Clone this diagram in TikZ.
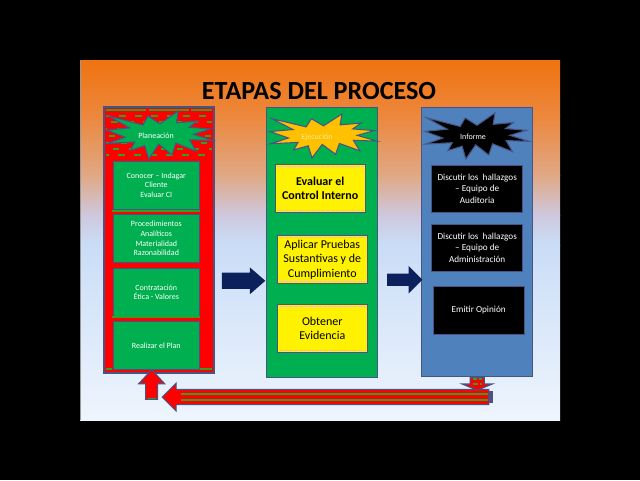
\documentclass[tikz,border=0pt]{standalone}
\usepackage{fontspec}
\setmainfont{Carlito}
\usetikzlibrary{positioning,shapes.arrows}

\definecolor{slideorange}{RGB}{240,115,15}
\definecolor{slidetan}{RGB}{236,135,60}
\definecolor{slidepeach}{RGB}{224,168,132}
\definecolor{slidelilac}{RGB}{206,200,222}
\definecolor{slideblue}{RGB}{202,221,247}
\definecolor{slidewhite}{RGB}{238,245,253}
\definecolor{planred}{RGB}{255,0,0}
\definecolor{execgreen}{RGB}{0,176,80}
\definecolor{infoblue}{RGB}{79,129,189}
\definecolor{starorange}{RGB}{255,192,0}
\definecolor{edgeblue}{RGB}{72,84,132}
\definecolor{navy}{RGB}{12,32,92}
\definecolor{patgreen}{RGB}{50,160,40}
\definecolor{pinkline}{RGB}{248,178,212}
\definecolor{paleyellow}{RGB}{252,232,150}

\newcommand{\burstpath}{(108,58) -- (83.52,22.95) -- (73.12,63.2) -- (3.7,22.95) -- (46.27,76.17) -- (0,86.15) -- (37.22,117.75) -- (1.35,145.87) -- (56.67,139.37) -- (47.62,176.17) -- (77.15,156.27) -- (84.85,216) -- (105.32,149.35) -- (132.47,197.37) -- (140.2,144.57) -- (181.45,180.95) -- (168.37,129.42) -- (216,132.9) -- (176.07,104.75) -- (210.97,81.37) -- (167.02,73.15) -- (183.8,44.57) -- (141.55,53.25) -- (145.22,0) -- cycle}

\tikzset{
  colbox/.style={draw=edgeblue, line width=1pt, inner sep=0pt},
  planbox/.style={draw=edgeblue, fill=execgreen, line width=0.6pt, minimum width=64.5pt, minimum height=36pt,
    inner sep=1pt, align=center, text=white, font=\fontsize{6}{7.3}\selectfont},
  execbox/.style={draw=edgeblue, fill=yellow, line width=0.6pt, minimum width=67.5pt, minimum height=36pt,
    inner sep=1pt, align=center, text=black, font=\fontsize{9}{10.8}\selectfont},
  infobox/.style={draw=edgeblue, fill=black, line width=0.6pt, minimum width=68.25pt, minimum height=35.8pt,
    inner sep=1pt, align=center, text=white, font=\fontsize{6.9}{8.6}\selectfont},
  burst/.style={draw=edgeblue, line width=0.8pt, line join=miter},
  startext/.style={inner sep=0pt, font=\fontsize{6}{7}\selectfont},
  patdash/.style={patgreen, line width=1.1pt, dash pattern=on 5pt off 7pt},
  pinkdash/.style={pinkline, line width=1pt, dash pattern=on 3pt off 0.7pt},
  blockarrow/.style={single arrow, inner xsep=0pt, outer sep=0pt},
  redarrow/.style={blockarrow, fill=planred, draw=edgeblue, line width=0.8pt}
}

\begin{document}
\begin{tikzpicture}[x=0.75pt,y=-0.75pt]
  % slide and background
  \fill[black] (0,0) rectangle (640,480);
  \useasboundingbox (0,0) rectangle (640,480);
  \shade[top color=slideorange, bottom color=slidetan] (80,60) rectangle (560,115);
  \shade[top color=slidetan, bottom color=slidepeach] (80,115) rectangle (560,175);
  \shade[top color=slidepeach, bottom color=slidelilac] (80,175) rectangle (560,215);
  \shade[top color=slidelilac, bottom color=slideblue] (80,215) rectangle (560,245);
  \shade[top color=slideblue, bottom color=slidewhite] (80,245) rectangle (560,420);
  \draw[gray!80, line width=0.6pt] (80.3,60) -- (80.3,420);

  \node[font=\bfseries\fontsize{19.6}{22}\selectfont] (title) at (319,91) {ETAPAS DEL PROCESO};

  % columns
  \node[colbox, fill=planred, minimum width=82.5pt, minimum height=199.5pt] (plan) at (159,240) {};
  \node[colbox, fill=execgreen, minimum width=83pt, minimum height=202.5pt] (exec) at (322,242.3) {};
  \node[colbox, fill=infoblue, minimum width=83.25pt, minimum height=202pt] (info) at (477.2,242) {};

  % pattern of the planning column
  \draw[patgreen, line width=1.3pt, dash pattern=on 30pt off 2pt] (106,110) -- (212,110);
  \draw[patdash, dash phase=2pt] (106,116) -- (212,116);
  \draw[patdash, dash phase=8pt] (106,122) -- (212,122);
  \draw[patdash, dash phase=4pt] (106,129) -- (212,129);
  \draw[patdash, dash phase=10pt] (106,136) -- (212,136);
  \draw[patdash, dash phase=1pt] (106,143) -- (212,143);
  \draw[patdash, dash phase=7pt] (106,149) -- (212,149);
  \draw[patdash, dash phase=3pt] (106,155) -- (212,155);

  % stars
  \begin{scope}[shift={(107,111)}, xscale=106/216, yscale=48/216]
    \draw[burst, fill=execgreen] \burstpath;
  \end{scope}
  \begin{scope}[shift={(270,114)}, xscale=107/216, yscale=44/216]
    \draw[burst, fill=starorange] \burstpath;
  \end{scope}
  \begin{scope}[shift={(425,113)}, xscale=104/216, yscale=46/216]
    \draw[burst, fill=black] \burstpath;
  \end{scope}
  \node[startext, text=white] (plantag) at (156,136) {Planeación};
  \node[startext, text=paleyellow] (exectag) at (317,137) {Ejecución};
  \node[startext, text=white] (infotag) at (473,137) {Informe};

  % planning steps
  \node[planbox] (pl1) at (156.3,185) {Conocer – Indagar\\Cliente\\Evaluar CI};
  \node[planbox, below=3.6pt of pl1] (pl2) {Procedimientos\\Analíticos\\Materialidad\\Razonabilidad};
  \node[planbox, below=3.6pt of pl2] (pl3) {Contratación\\Ética - Valores};
  \node[planbox, below=3.6pt of pl3] (pl4) {Realizar el Plan};
  \draw[patgreen, line width=1.4pt] (112,211.4) -- (200,211.4);
  \draw[patgreen, line width=1.4pt] (112,317) -- (200,317);
  \draw[patgreen, line width=1.4pt] (106,369) -- (112,369);
  \draw[patgreen, line width=1.4pt] (200,369) -- (211.5,369);

  % execution steps
  \node[execbox, font=\bfseries\fontsize{9}{11.2}\selectfont] (ex1) at (320.2,188.3) {Evaluar el\\Control Interno};
  \node[execbox] (ex2) at (322.3,259.7) {Aplicar Pruebas\\Sustantivas y de\\Cumplimiento};
  \node[execbox] (ex3) at (322.3,328.2) {Obtener\\Evidencia};
  \draw[pinkdash] ([shift={(1.5pt,-1.8pt)}]ex1.north west) -- ([shift={(-1.5pt,-1.8pt)}]ex1.north east);
  \draw[pinkdash] ([shift={(1.5pt,1.8pt)}]ex1.south west) -- ([shift={(-1.5pt,1.8pt)}]ex1.south east);
  \draw[pinkdash] ([shift={(1.5pt,-1.8pt)}]ex2.north west) -- ([shift={(-1.5pt,-1.8pt)}]ex2.north east);
  \draw[pinkdash] ([shift={(1.5pt,1.8pt)}]ex2.south west) -- ([shift={(-1.5pt,1.8pt)}]ex2.south east);
  \draw[pinkdash] ([shift={(1.5pt,-1.8pt)}]ex3.north west) -- ([shift={(-1.5pt,-1.8pt)}]ex3.north east);
  \draw[pinkdash] ([shift={(1.5pt,1.8pt)}]ex3.south west) -- ([shift={(-1.5pt,1.8pt)}]ex3.south east);

  % report steps
  \node[infobox] (in1) at (477.2,188.8) {Discutir los\ \ hallazgos\\– Equipo de\\Auditoria};
  \node[infobox] (in2) at (477.2,247.8) {Discutir los\ \ hallazgos\\– Equipo de\\Administración};
  \node[infobox] (in3) at (478.7,310.5) {Emitir Opinión};

  % arrows between the stages
  \node[blockarrow, fill=navy, minimum height=32.5pt, minimum width=19.7pt, inner ysep=5.85pt,
    single arrow head extend=4pt, single arrow tip angle=82] (go1) at (239,280.8) {};
  \node[blockarrow, fill=navy, minimum height=26.5pt, minimum width=20.5pt, inner ysep=4.4pt,
    single arrow head extend=5.85pt, single arrow tip angle=90] (go2) at (401.7,279.7) {};

  % feedback loop
  \node[redarrow, rotate=180, minimum height=245pt, minimum width=20pt, inner ysep=5.25pt,
    single arrow head extend=4.7pt, single arrow tip angle=90] (back) at (329.35,397) {};
  \draw[patgreen, line width=1.3pt] (181,394.3) -- (488,394.3);
  \draw[patgreen, line width=1.3pt] (181,400.2) -- (488,400.2);
  \fill[edgeblue] (488.5,391.2) rectangle (492.7,402.8);
  \node[redarrow, rotate=-90, minimum height=9.6pt, minimum width=21.75pt, inner ysep=4.9pt,
    single arrow head extend=6pt, single arrow tip angle=135] (down) at (477.2,382.4) {};
  \draw[patgreen, line width=1.2pt, dash pattern=on 3pt off 1.5pt] (473,379) -- (482,379);
  \draw[patgreen, line width=1.2pt, dash pattern=on 4pt off 1.5pt] (472.5,384) -- (482,384);
  \node[redarrow, rotate=90, minimum height=22.1pt, minimum width=18.75pt, inner ysep=4.1pt,
    single arrow head extend=5.25pt, single arrow tip angle=86] (up) at (151.7,387.75) {};
  \draw[patgreen, line width=1.2pt] (147.5,398.5) -- (156,398.5);
\end{tikzpicture}
\end{document}
